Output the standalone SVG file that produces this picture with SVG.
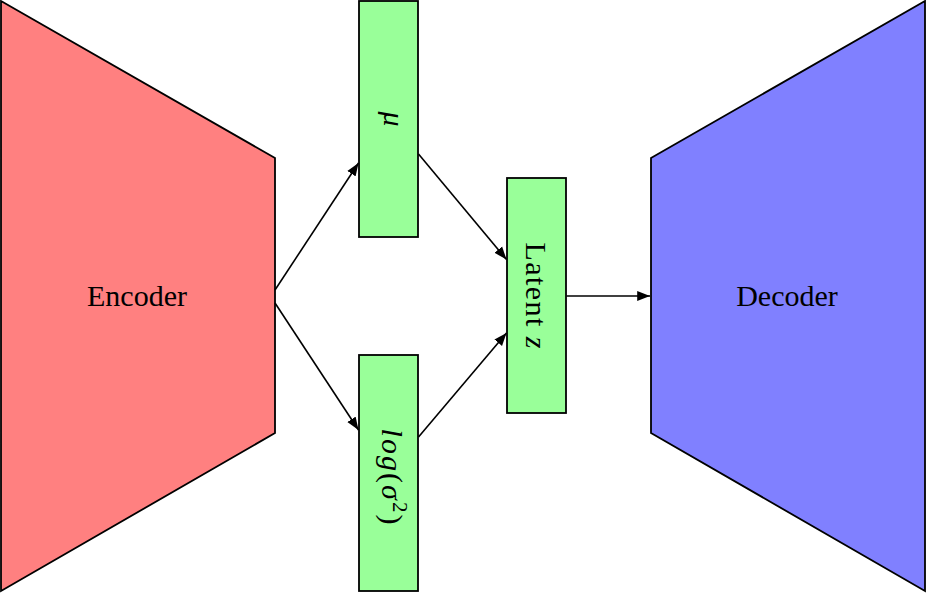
<svg xmlns="http://www.w3.org/2000/svg" width="926" height="593" viewBox="0 0 926 593">
<defs>
<marker id="arr" markerUnits="strokeWidth" markerWidth="9" markerHeight="7" viewBox="0 0 9 7" refX="8" refY="3.5" orient="auto">
<path d="M0,0.4 L8,3.5 L0,6.6 Z" fill="#000"/>
</marker>
<style>
.shape{stroke:#000;stroke-width:1.8;stroke-linejoin:miter}
.enc{fill:#FF8080}
.dec{fill:#8080FF}
.box{fill:#99FF99}
.lbl{font-family:"Liberation Serif","DejaVu Serif",serif;font-size:30px;fill:#000}
.it{font-style:italic}
.conn{stroke:#000;stroke-width:1.6;fill:none;marker-end:url(#arr)}
</style>
</defs>
<rect width="926" height="593" fill="#fff"/>
<g id="encoder">
<polygon class="shape enc" points="1,1 275,158 275,433 1,591"/>
<text class="lbl" x="137" y="306" text-anchor="middle">Encoder</text>
</g>
<g id="decoder">
<polygon class="shape dec" points="651,158 925,1 925,591 651,433"/>
<text class="lbl" x="787" y="306" text-anchor="middle">Decoder</text>
</g>
<g id="mu">
<rect class="shape box" x="359" y="1" width="59" height="236"/>
<text class="lbl it" transform="translate(388.5,119) rotate(90)" x="0" y="4.5" text-anchor="middle">μ</text>
</g>
<g id="logvar">
<rect class="shape box" x="359" y="355" width="59" height="236"/>
<text class="lbl" transform="translate(388.5,476.5) rotate(90)" x="0" y="6.5" text-anchor="middle" textLength="96" lengthAdjust="spacing"><tspan class="it">log</tspan>(<tspan class="it">σ</tspan><tspan font-size="21" dy="-11">2</tspan><tspan dy="11">)</tspan></text>
</g>
<g id="latent">
<rect class="shape box" x="507" y="178" width="59" height="235"/>
<text class="lbl" transform="translate(536.5,295.5) rotate(90)" x="0" y="11" text-anchor="middle" textLength="106" lengthAdjust="spacing">Latent <tspan class="it">z</tspan></text>
</g>
<g id="connectors">
<path class="conn" d="M275,290 L358.5,163"/>
<path class="conn" d="M275,303 L358.5,430"/>
<path class="conn" d="M418.5,154 L506.5,259.5"/>
<path class="conn" d="M418.5,437 L506.5,333"/>
<path class="conn" d="M566.5,296 L650,296"/>
</g>
</svg>
